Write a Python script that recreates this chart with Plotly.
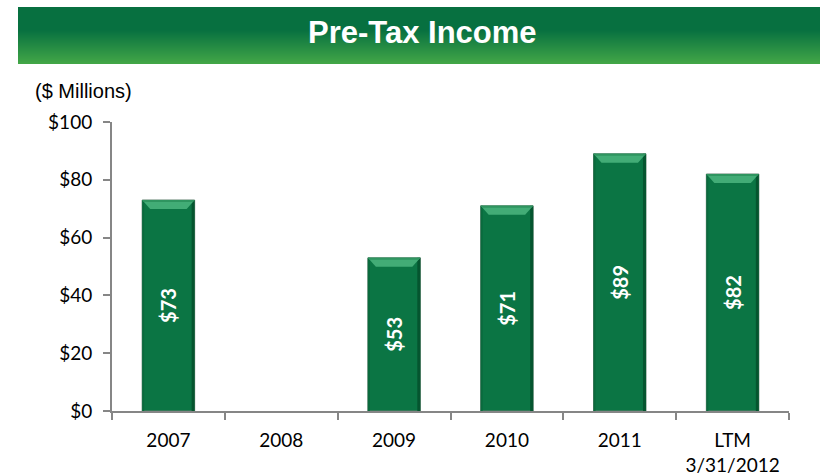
import plotly.graph_objects as go

# ---- data ----
categories = ["2007", "2008", "2009", "2010", "2011", "LTM<br>3/31/2012"]
pretax_income = [73, None, 53, 71, 89, 82]   # $ millions; no bar for 2008
bar_labels = ["$73", "", "$53", "$71", "$89", "$82"]
y_ticks = [0, 20, 40, 60, 80, 100]
y_tick_text = ["$0", "$20", "$40", "$60", "$80", "$100"]

# ---- page geometry ----
W, H = 820, 475
M_L, M_R, M_T, M_B = 112, 31, 122, 64
PLOT_W = W - M_L - M_R
PLOT_H = H - M_T - M_B
Y_MAX = 100
BAR_W = 0.465


def px_x(px):
    """pixel column -> paper x"""
    return (px - M_L) / PLOT_W


def px_y(py):
    """pixel row -> paper y"""
    return (H - M_B - py) / PLOT_H


def hex_to_rgb(h):
    h = h.lstrip("#")
    return tuple(int(h[i:i + 2], 16) for i in (0, 2, 4))


def blend(c0, c1, t):
    a, b = hex_to_rgb(c0), hex_to_rgb(c1)
    return "rgb(%d,%d,%d)" % tuple(round(a[k] + (b[k] - a[k]) * t) for k in range(3))


px_per_unit_y = PLOT_H / Y_MAX
px_per_cat = PLOT_W / len(categories)

fig = go.Figure()
fig.add_trace(go.Bar(
    x=categories,
    y=pretax_income,
    width=BAR_W,
    marker=dict(color="#0B7544", line=dict(color="#5E7F6C", width=1)),
    text=bar_labels,
    textposition="inside",
    insidetextanchor="middle",
    textangle=-90,
    textfont=dict(family="Lato", size=20, color="white", weight="bold"),
    hoverinfo="skip",
))

shapes = []

# header banner: solid dark green top fading to lighter green at the bottom.
# Each band runs to the banner bottom so later bands overlap earlier ones
# (no hairline gaps between bands).
BAN_X0, BAN_X1 = 18, 820
BAN_TOP, BAN_SOLID, BAN_BOT = 7, 30, 64
DARK, LIGHT = "#077040", "#43A747"
shapes.append(dict(type="rect", xref="paper", yref="paper",
                   x0=px_x(BAN_X0), x1=px_x(BAN_X1),
                   y0=px_y(BAN_BOT), y1=px_y(BAN_TOP),
                   fillcolor=DARK, line=dict(width=0), layer="below"))
steps = BAN_BOT - BAN_SOLID
for k in range(steps):
    shapes.append(dict(type="rect", xref="paper", yref="paper",
                       x0=px_x(BAN_X0), x1=px_x(BAN_X1),
                       y0=px_y(BAN_BOT), y1=px_y(BAN_SOLID + k),
                       fillcolor=blend(DARK, LIGHT, (k + 0.5) / steps),
                       line=dict(width=0), layer="below"))

# bevelled bar look: darker side edges and a light top facet
edge_r = 3 / px_per_cat
edge_l = 2 / px_per_cat
bevel_d = 9 / px_per_unit_y
bevel_in = 8 / px_per_cat
rim_d = 2 / px_per_unit_y
for i, v in enumerate(pretax_income):
    if v is None:
        continue
    xl, xr = i - BAR_W / 2, i + BAR_W / 2
    shapes.append(dict(type="rect", xref="x", yref="y",
                       x0=xr - edge_r, x1=xr, y0=0, y1=v,
                       fillcolor="#05552F", line=dict(width=0)))
    shapes.append(dict(type="rect", xref="x", yref="y",
                       x0=xl, x1=xl + edge_l, y0=0, y1=v,
                       fillcolor="#0A6A3D", line=dict(width=0)))
    shapes.append(dict(type="path", xref="x", yref="y",
                       path=f"M {xl},{v} L {xr},{v} L {xr - bevel_in},{v - bevel_d} "
                            f"L {xl + bevel_in},{v - bevel_d} Z",
                       fillcolor="#42AC76", line=dict(width=0)))
    shapes.append(dict(type="path", xref="x", yref="y",
                       path=f"M {xl},{v} L {xr},{v} L {xr - bevel_in * 0.25},{v - rim_d} "
                            f"L {xl + bevel_in * 0.25},{v - rim_d} Z",
                       fillcolor="#2F9560", line=dict(width=0)))

annotations = [
    dict(text="<b>Pre-Tax Income</b>", xref="paper", yref="paper",
         x=px_x(422), y=px_y(33), xanchor="center", yanchor="middle",
         showarrow=False, font=dict(family="Liberation Sans", size=31, color="white")),
    dict(text="($ Millions)", xref="paper", yref="paper",
         x=px_x(33), y=px_y(91), xanchor="left", yanchor="middle",
         showarrow=False, font=dict(family="Liberation Sans", size=20, color="black")),
]

AXIS_GREY = "#868686"
fig.update_layout(
    width=W, height=H,
    margin=dict(l=M_L, r=M_R, t=M_T, b=M_B, pad=0, autoexpand=False),
    paper_bgcolor="white", plot_bgcolor="white",
    showlegend=False,
    shapes=shapes,
    annotations=annotations,
    xaxis=dict(
        type="category", range=[-0.5, len(categories) - 0.5],
        automargin=False,
        showgrid=False, zeroline=False,
        showline=True, linecolor=AXIS_GREY, linewidth=2,
        ticks="outside", tickson="boundaries", ticklen=7, tickwidth=2, tickcolor=AXIS_GREY,
        tickfont=dict(family="Lato", size=19, color="black"),
        ticklabelstandoff=11,
    ),
    yaxis=dict(
        range=[0, Y_MAX], tickvals=y_ticks, ticktext=y_tick_text,
        automargin=False,
        showgrid=False, zeroline=False,
        showline=True, linecolor=AXIS_GREY, linewidth=2,
        ticks="outside", ticklen=7, tickwidth=2, tickcolor=AXIS_GREY,
        tickfont=dict(family="Lato", size=19, color="black"),
        ticklabelstandoff=7,
    ),
)

fig.write_html("out.html")
